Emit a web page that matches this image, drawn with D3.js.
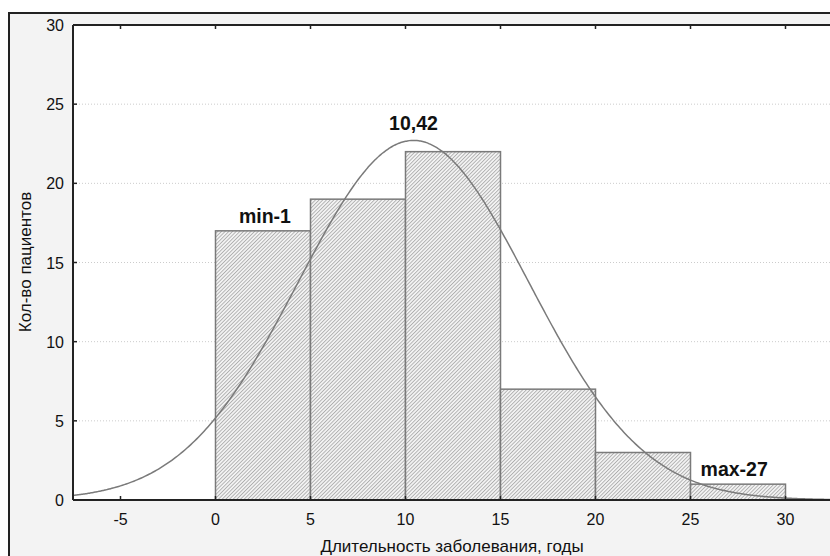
<!DOCTYPE html>
<html>
<head>
<meta charset="utf-8">
<script src="https://cdn.jsdelivr.net/npm/d3@7"></script>
<style>
    body { margin: 0; background: #fff; }
    text { font-family: "Liberation Sans", Arial, sans-serif; }
</style>
</head>
<body>
<div id="chart"></div>
<script>
// histogram bins (left edges) and counts
const binStarts = [0, 5, 10, 15, 20, 25];
const binWidth = 5;
const counts = [17, 19, 22, 7, 3, 1];

// fitted normal curve parameters
const fitMean = 10.42;
const fitSd = 6.06;

const xTicks = [-5, 0, 5, 10, 15, 20, 25, 30];
const yTicks = [0, 5, 10, 15, 20, 25, 30];

const notes = [
    { text: "min-1", x: 2.6, y: 17.5 },
    { text: "10,42", x: 10.42, y: 23.4 },
    { text: "max-27", x: 27.3, y: 1.5 }
];

drawChart();

function drawChart() {
    const width = 830;
    const height = 556;
    const plot = { left: 73, top: 25, bottom: 500 };

    const svg = d3.select("#chart").append("svg")
        .attr("width", width)
        .attr("height", height);

    const defs = svg.append("defs");
    const hatch = defs.append("pattern")
        .attr("id", "hatch")
        .attr("patternUnits", "userSpaceOnUse")
        .attr("width", 2.6)
        .attr("height", 2.6)
        .attr("patternTransform", "rotate(45)");
    hatch.append("rect").attr("width", 2.6).attr("height", 2.6).attr("fill", "#f4f4f4");
    hatch.append("line")
        .attr("x1", 0.5).attr("y1", 0).attr("x2", 0.5).attr("y2", 2.6)
        .attr("stroke", "#a3a3a3").attr("stroke-width", 0.8);

    defs.append("clipPath").attr("id", "plotClip")
        .append("rect")
        .attr("x", plot.left).attr("y", plot.top)
        .attr("width", width - plot.left).attr("height", plot.bottom - plot.top);

    // outer panel
    svg.append("rect")
        .attr("x", 9).attr("y", 13)
        .attr("width", width + 10).attr("height", height + 10)
        .attr("fill", "#f3f3f3")
        .attr("stroke", "#222")
        .attr("stroke-width", 2);

    // x: 19px per unit, 0 at 215
    const x = d3.scaleLinear().domain([-7.5, 35]).range([plot.left, plot.left + 42.5 * 19]);
    const y = d3.scaleLinear().domain([0, 30]).range([plot.bottom, plot.top]);

    svg.append("rect")
        .attr("x", plot.left).attr("y", plot.top)
        .attr("width", width).attr("height", plot.bottom - plot.top)
        .attr("fill", "#fff");

    // dotted grid
    svg.append("g")
        .selectAll("line")
        .data(yTicks.filter(d => d > 0 && d < 30))
        .enter()
        .append("line")
        .attr("x1", plot.left).attr("x2", width)
        .attr("y1", d => y(d)).attr("y2", d => y(d))
        .attr("stroke", "#cccccc")
        .attr("stroke-dasharray", "1,2");

    // bars
    svg.append("g")
        .selectAll("rect")
        .data(binStarts.map((b, i) => ({ start: b, count: counts[i] })))
        .enter()
        .append("rect")
        .attr("x", d => x(d.start))
        .attr("y", d => y(d.count))
        .attr("width", d => x(d.start + binWidth) - x(d.start))
        .attr("height", d => y(0) - y(d.count))
        .attr("fill", "url(#hatch)")
        .attr("stroke", "#7a7a7a")
        .attr("stroke-width", 1.5);

    // normal curve scaled to counts
    const total = d3.sum(counts);
    const scale = total * binWidth / (fitSd * Math.sqrt(2 * Math.PI));
    const curveX = d3.range(-7.5, 35.01, 0.1);
    const line = d3.line()
        .x(d => x(d))
        .y(d => y(scale * Math.exp(-((d - fitMean) ** 2) / (2 * fitSd * fitSd))))
        .curve(d3.curveMonotoneX);
    svg.append("path")
        .datum(curveX)
        .attr("clip-path", "url(#plotClip)")
        .attr("d", line)
        .attr("fill", "none")
        .attr("stroke", "#7a7a7a")
        .attr("stroke-width", 1.5);

    // axes frame
    const frame = svg.append("g").attr("stroke", "#222").attr("stroke-width", 2);
    frame.append("line").attr("x1", plot.left).attr("x2", width).attr("y1", plot.top).attr("y2", plot.top);
    frame.append("line").attr("x1", plot.left).attr("x2", width).attr("y1", plot.bottom).attr("y2", plot.bottom);
    frame.append("line").attr("x1", plot.left).attr("x2", plot.left).attr("y1", plot.top).attr("y2", plot.bottom);

    // ticks inside
    const ticks = svg.append("g").attr("stroke", "#222").attr("stroke-width", 1.5);
    xTicks.forEach(t => {
        ticks.append("line").attr("x1", x(t)).attr("x2", x(t)).attr("y1", plot.bottom).attr("y2", plot.bottom - 4);
        ticks.append("line").attr("x1", x(t)).attr("x2", x(t)).attr("y1", plot.top).attr("y2", plot.top + 4);
    });
    yTicks.forEach(t => {
        ticks.append("line").attr("x1", plot.left).attr("x2", plot.left + 4).attr("y1", y(t)).attr("y2", y(t));
    });

    svg.append("g")
        .selectAll("text")
        .data(xTicks)
        .enter()
        .append("text")
        .attr("x", d => x(d))
        .attr("y", 525)
        .attr("text-anchor", "middle")
        .attr("font-size", 16)
        .attr("fill", "#111")
        .text(d => d);

    svg.append("g")
        .selectAll("text")
        .data(yTicks)
        .enter()
        .append("text")
        .attr("x", 64)
        .attr("y", d => y(d) + 6)
        .attr("text-anchor", "end")
        .attr("font-size", 16)
        .attr("fill", "#111")
        .text(d => d);

    svg.append("text")
        .attr("x", 452)
        .attr("y", 552)
        .attr("text-anchor", "middle")
        .attr("font-size", 17)
        .attr("fill", "#111")
        .text("Длительность заболевания, годы");

    svg.append("text")
        .attr("transform", "translate(31,262) rotate(-90)")
        .attr("text-anchor", "middle")
        .attr("font-size", 17)
        .attr("fill", "#111")
        .text("Кол-во пациентов");

    svg.append("g")
        .selectAll("text")
        .data(notes)
        .enter()
        .append("text")
        .attr("x", d => x(d.x))
        .attr("y", d => y(d.y))
        .attr("text-anchor", "middle")
        .attr("font-size", 19.5)
        .attr("font-weight", "bold")
        .attr("fill", "#111")
        .text(d => d.text);
}
</script>
</body>
</html>
